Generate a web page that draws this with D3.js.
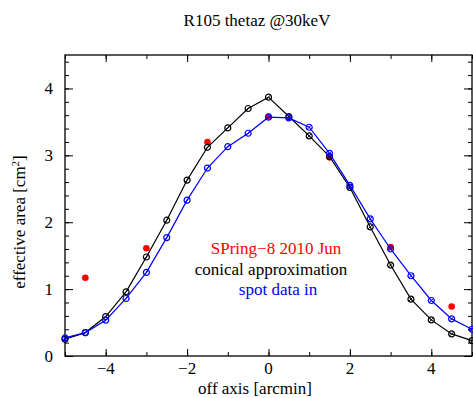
<!DOCTYPE html>
<html lang="en">
<head>
  <meta charset="UTF-8">
  <title>R105 thetaz</title>
  <script src="https://d3js.org/d3.v7.min.js"></script>
  <style>
    body { margin: 0; background: #fff; }
    text { font-family: "Liberation Serif", "Times New Roman", serif; }
  </style>
</head>
<body>
<div class="main"></div>
<script>

  // off-axis angle [arcmin] for the model curves
  var offAxis = [-5, -4.5, -4, -3.5, -3, -2.5, -2, -1.5, -1, -0.5, 0, 0.5, 1, 1.5, 2, 2.5, 3, 3.5, 4, 4.5, 5];
  var conicalArea = [0.25, 0.35, 0.59, 0.96, 1.48, 2.03, 2.63, 3.12, 3.41, 3.70, 3.87, 3.58, 3.29, 2.98, 2.52, 1.93, 1.36, 0.85, 0.54, 0.33, 0.23];
  var spotArea = [0.27, 0.35, 0.535, 0.86, 1.25, 1.77, 2.33, 2.81, 3.13, 3.33, 3.57, 3.56, 3.42, 3.03, 2.55, 2.05, 1.60, 1.20, 0.83, 0.555, 0.40];

  // measured points
  var springX = [-4.5, -3, -1.5, 0, 1.5, 3, 4.5];
  var springArea = [1.17, 1.61, 3.20, 3.58, 2.97, 1.63, 0.74];

  var xTicks = [-4, -2, 0, 2, 4];
  var yTicks = [0, 1, 2, 3, 4];

  let width = 473, height = 398;
  let mLeft = 65, mRight = 472, mTop = 55, mBottom = 356;

  let svg = d3.select(".main")
          .append("svg")
          .attr("width", width)
          .attr("height", height)
          .style("display", "block");

  let xScale = d3.scaleLinear().domain([-5, 5]).range([mLeft, mRight]);
  let yScale = d3.scaleLinear().domain([0, 4.5]).range([mBottom, mTop]);

  let line = d3.line()
          .x(function(d) { return xScale(d.x); })
          .y(function(d) { return yScale(d.y); });

  let conical = offAxis.map(function(x, i) { return {x: x, y: conicalArea[i]}; });
  let spot = offAxis.map(function(x, i) { return {x: x, y: spotArea[i]}; });
  let spring = springX.map(function(x, i) { return {x: x, y: springArea[i]}; });

  // frame ticks, inward on all four sides
  function frameAxis(axis, translate) {
    let g = svg.append("g").attr("transform", translate).call(axis);
    g.select(".domain").remove();
    g.selectAll("text").remove();
    g.selectAll("line").attr("stroke", "#000").attr("stroke-width", 1);
    return g;
  }
  let xMinor = d3.range(-5, 5.01, 1);
  let yMinor = d3.range(0, 4.51, 0.2);

  frameAxis(d3.axisBottom(xScale).tickValues(xMinor).tickSize(-4), `translate(0,${mBottom})`);
  frameAxis(d3.axisBottom(xScale).tickValues(xTicks).tickSize(-7), `translate(0,${mBottom})`);
  frameAxis(d3.axisTop(xScale).tickValues(xMinor).tickSize(-4), `translate(0,${mTop})`);
  frameAxis(d3.axisTop(xScale).tickValues(xTicks).tickSize(-7), `translate(0,${mTop})`);
  frameAxis(d3.axisLeft(yScale).tickValues(yMinor).tickSize(-4), `translate(${mLeft},0)`);
  frameAxis(d3.axisLeft(yScale).tickValues(yTicks).tickSize(-8), `translate(${mLeft},0)`);
  frameAxis(d3.axisRight(yScale).tickValues(yMinor).tickSize(-4), `translate(${mRight},0)`);
  frameAxis(d3.axisRight(yScale).tickValues(yTicks).tickSize(-8), `translate(${mRight},0)`);

  svg.append("rect")
          .attr("x", mLeft).attr("y", mTop)
          .attr("width", mRight - mLeft).attr("height", mBottom - mTop)
          .attr("fill", "none").attr("stroke", "#000").attr("stroke-width", 1.3);

  // tick labels
  svg.append("g").selectAll("text")
          .data(xTicks)
          .join("text")
          .attr("x", function(d) { return xScale(d); })
          .attr("y", 374)
          .attr("text-anchor", "middle")
          .style("font-size", "17px")
          .text(function(d) { return d < 0 ? "\u2212" + Math.abs(d) : d; });

  svg.append("g").selectAll("text")
          .data(yTicks)
          .join("text")
          .attr("x", 53)
          .attr("y", function(d) { return yScale(d) + 6; })
          .attr("text-anchor", "end")
          .style("font-size", "17px")
          .text(function(d) { return d; });

  // titles
  svg.append("text").attr("x", 257).attr("y", 26).attr("text-anchor", "middle")
          .style("font-size", "17px").text("R105 thetaz @30keV");
  svg.append("text").attr("x", 255).attr("y", 394).attr("text-anchor", "middle")
          .style("font-size", "17px").text("off axis [arcmin]");
  let yl = svg.append("text").attr("transform", "translate(25,222) rotate(-90)")
          .attr("text-anchor", "middle").style("font-size", "17px");
  yl.append("tspan").text("effective area [cm");
  yl.append("tspan").attr("dy", -6).style("font-size", "11px").text("2");
  yl.append("tspan").attr("dy", 6).text("]");

  // measured points under the curves
  svg.append("g").selectAll("circle")
          .data(spring)
          .join("circle")
          .attr("cx", function(d) { return xScale(d.x); })
          .attr("cy", function(d) { return yScale(d.y); })
          .attr("r", 3.3)
          .attr("fill", "#ff0000");

  function drawSeries(data, color) {
    svg.append("path")
            .datum(data)
            .attr("d", line)
            .attr("fill", "none")
            .attr("stroke", color)
            .attr("stroke-width", 1.2);
    let m = svg.append("g").selectAll("g")
            .data(data)
            .join("g")
            .attr("transform", function(d) { return `translate(${xScale(d.x)},${yScale(d.y)})`; });
    m.append("circle").attr("r", 3).attr("fill", "none").attr("stroke", color).attr("stroke-width", 1.2);
    m.append("line").attr("x1", -2.2).attr("y1", 2.2).attr("x2", 2.2).attr("y2", -2.2)
            .attr("stroke", color).attr("stroke-width", 1);
  }
  drawSeries(conical, "#000000");
  drawSeries(spot, "#0000ff");

  // legend text
  svg.append("text").attr("x", 276).attr("y", 254).attr("text-anchor", "middle")
          .attr("fill", "#ff0000").style("font-size", "17px").text("SPring\u22128 2010 Jun");
  svg.append("text").attr("x", 271).attr("y", 275).attr("text-anchor", "middle")
          .attr("fill", "#000000").style("font-size", "17px").text("conical approximation");
  svg.append("text").attr("x", 278).attr("y", 295).attr("text-anchor", "middle")
          .attr("fill", "#0000ff").style("font-size", "17px").text("spot data in");

</script>
</body>
</html>
